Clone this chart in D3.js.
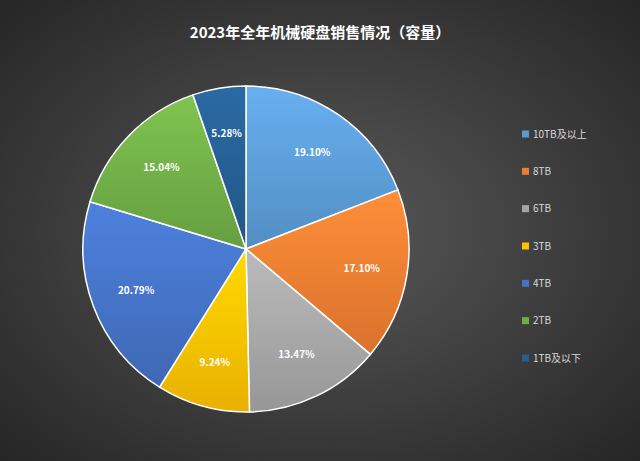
<!DOCTYPE html>
<html><head><meta charset="utf-8">
<script src="https://cdn.jsdelivr.net/npm/d3@7"></script>
<style>body{margin:0;}</style></head>
<body><svg id="c" width="640" height="461"></svg>
<script>
const categories = ["10TB及以上","8TB","6TB","3TB","4TB","2TB","1TB及以下"];
const values = [19.10,17.10,13.47,9.24,20.79,15.04,5.28];
const colors = ["#5b9bd5","#ed7d31","#a5a5a5","#ffc000","#4472c4","#70ad47","#255e91"];
const title = "2023年全年机械硬盘销售情况（容量）";

const svg = d3.select("#c");
const defs = svg.append("defs");
const bg = defs.append("radialGradient").attr("id","bg").attr("cx","50%").attr("cy","50%").attr("r","70%");
bg.append("stop").attr("offset","0%").attr("stop-color","#595959");
bg.append("stop").attr("offset","100%").attr("stop-color","#262626");
svg.append("rect").attr("width",640).attr("height",461).attr("fill","url(#bg)");

colors.forEach((c,i)=>{
  const g = defs.append("linearGradient").attr("id","g"+i).attr("x1","0").attr("y1","0").attr("x2","0").attr("y2","1");
  g.append("stop").attr("offset","0%").attr("stop-color",d3.color(c).brighter(0.35));
  g.append("stop").attr("offset","100%").attr("stop-color",d3.color(c).darker(0.25));
});

svg.append("text").attr("x",320).attr("y",38).attr("text-anchor","middle")
  .attr("fill","#fff").attr("font-family","Noto Sans CJK SC").attr("font-weight","bold")
  .attr("font-size",15).text(title);

const cx=246, cy=249, r=163;
const pie = d3.pie().sort(null).value(d=>d)(values);
const arc = d3.arc().innerRadius(0).outerRadius(r);
const lab = d3.arc().innerRadius(r*0.72).outerRadius(r*0.72);
const g = svg.append("g").attr("transform",`translate(${cx},${cy})`);
g.selectAll("path").data(pie).join("path").attr("d",arc)
  .attr("fill",(d,i)=>`url(#g${i})`).attr("stroke","#fff").attr("stroke-width",1.5);
g.selectAll("text").data(pie).join("text")
  .attr("transform",d=>`translate(${lab.centroid(d)})`)
  .attr("text-anchor","middle").attr("dy","0.35em")
  .attr("fill","#fff").attr("font-family","Noto Sans CJK SC").attr("font-weight","bold").attr("font-size",10)
  .text(d=>d.data.toFixed(2)+"%");

const y = d3.scalePoint().domain(categories).range([134,358]);
const lg = svg.append("g");
categories.forEach((c,i)=>{
  lg.append("rect").attr("x",522).attr("y",y(c)-3.5).attr("width",7).attr("height",7).attr("fill",colors[i]);
  lg.append("text").attr("x",533).attr("y",y(c)).attr("dy","0.35em").attr("fill","#d9d9d9")
    .attr("font-family","Noto Sans CJK SC").attr("font-size",10).text(c);
});
</script></body></html>
